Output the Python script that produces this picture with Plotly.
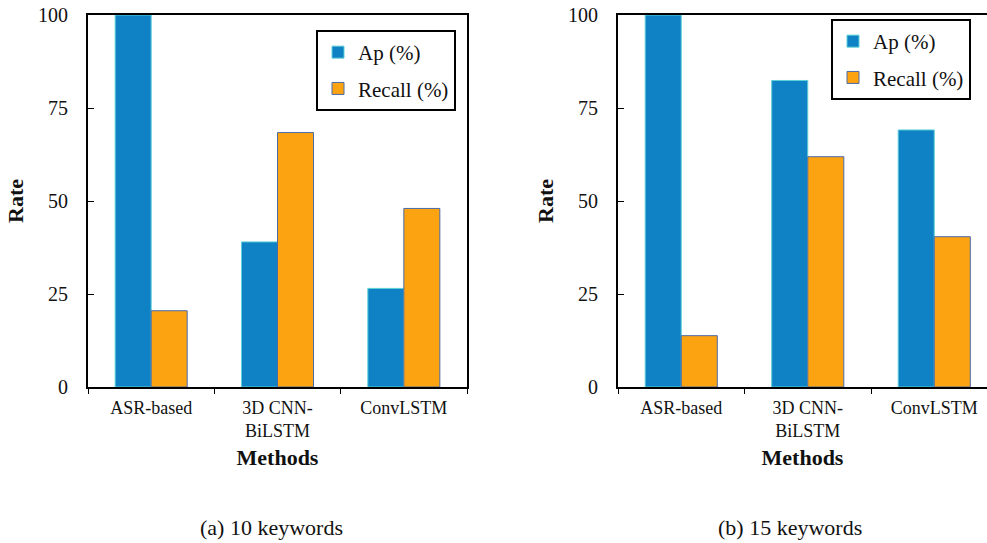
import plotly.graph_objects as go

# Methods compared and their scores (%)
methods = ["ASR-based", "3D CNN-<br>BiLSTM", "ConvLSTM"]
ap_10 = [100.0, 39.0, 26.5]
recall_10 = [20.5, 68.4, 48.0]
ap_15 = [100.0, 82.4, 69.1]
recall_15 = [13.8, 61.9, 40.4]
y_ticks = [0, 25, 50, 75, 100]
captions = ["(a) 10 keywords", "(b) 15 keywords"]

AP_COLOR = "#0F82C5"
AP_EDGE = "#5CCFD8"
RECALL_COLOR = "#FCA312"
RECALL_EDGE = "#4A6AA8"
FONT = "'Times New Roman', 'Liberation Serif', Times, serif"

W, H = 987, 543

fig = go.Figure()

panels = [
    (ap_10, recall_10, "x", "y", "legend"),
    (ap_15, recall_15, "x2", "y2", "legend2"),
]
for ap, rec, xa, ya, lg in panels:
    fig.add_trace(go.Bar(
        x=methods, y=ap, name="Ap (%)", xaxis=xa, yaxis=ya, legend=lg,
        legendgroup="ap",
        marker=dict(color=AP_COLOR, line=dict(color=AP_EDGE, width=1)),
    ))
    fig.add_trace(go.Bar(
        x=methods, y=rec, name="Recall (%)", xaxis=xa, yaxis=ya, legend=lg,
        legendgroup="recall",
        marker=dict(color=RECALL_COLOR, line=dict(color=RECALL_EDGE, width=1)),
    ))

y_lo, y_hi = 1 - 387 / H, 1 - 15 / H

xaxis_common = dict(
    showline=True, linecolor="black", linewidth=2, mirror=True,
    ticks="outside", tickson="boundaries", ticklen=5, tickcolor="black",
    ticklabelstandoff=3,
    tickfont=dict(family=FONT, size=18, color="#111"),
    title=dict(text="<b>Methods</b>", font=dict(family=FONT, size=22, color="#111"),
               standoff=10),
    showgrid=False, zeroline=False, automargin=False,
)
yaxis_common = dict(
    range=[0, 100], tickvals=y_ticks, showline=True, linecolor="black", linewidth=2,
    ticks="inside", ticklen=6, tickcolor="black", ticklabelstandoff=14,
    tickfont=dict(family=FONT, size=20, color="#111"),
    title=dict(text="<b>Rate</b>", font=dict(family=FONT, size=22, color="#111"),
               standoff=8),
    showgrid=False, zeroline=False, automargin=False,
)

# right panel runs past the page edge, so its axis range is cut short
right_start = 618
right_range_end = -0.5 + (W - right_start) / 126.5

legend_common = dict(
    bordercolor="black", borderwidth=2, bgcolor="white",
    font=dict(family=FONT, size=21, color="#111"),
    xanchor="left", yanchor="top", xref="paper", yref="paper",
    traceorder="grouped", tracegroupgap=6, itemwidth=30,
)

fig.update_layout(
    width=W, height=H,
    margin=dict(l=0, r=0, t=0, b=0, autoexpand=False),
    paper_bgcolor="white", plot_bgcolor="white",
    barmode="group", bargap=0.43, bargroupgap=0,
    font=dict(family=FONT, color="#111"),
    xaxis=dict(xaxis_common, domain=[88 / W, 467 / W], anchor="y"),
    yaxis=dict(yaxis_common, domain=[y_lo, y_hi], anchor="x", mirror=True),
    xaxis2=dict(xaxis_common, domain=[right_start / W, 1.0], anchor="y2",
                range=[-0.5, right_range_end]),
    yaxis2=dict(yaxis_common, domain=[y_lo, y_hi], anchor="x2", mirror=False),
    legend=dict(legend_common, x=316 / W, y=1 - 30 / H),
    legend2=dict(legend_common, x=831 / W, y=1 - 19 / H),
    showlegend=True,
)

for text, cx in zip(captions, [271 / W, 790 / W]):
    fig.add_annotation(
        text=text, x=cx, y=1 - 527 / H, xref="paper", yref="paper",
        showarrow=False, font=dict(family=FONT, size=22, color="#111"),
        xanchor="center", yanchor="middle",
    )

fig.write_html("out.html")
